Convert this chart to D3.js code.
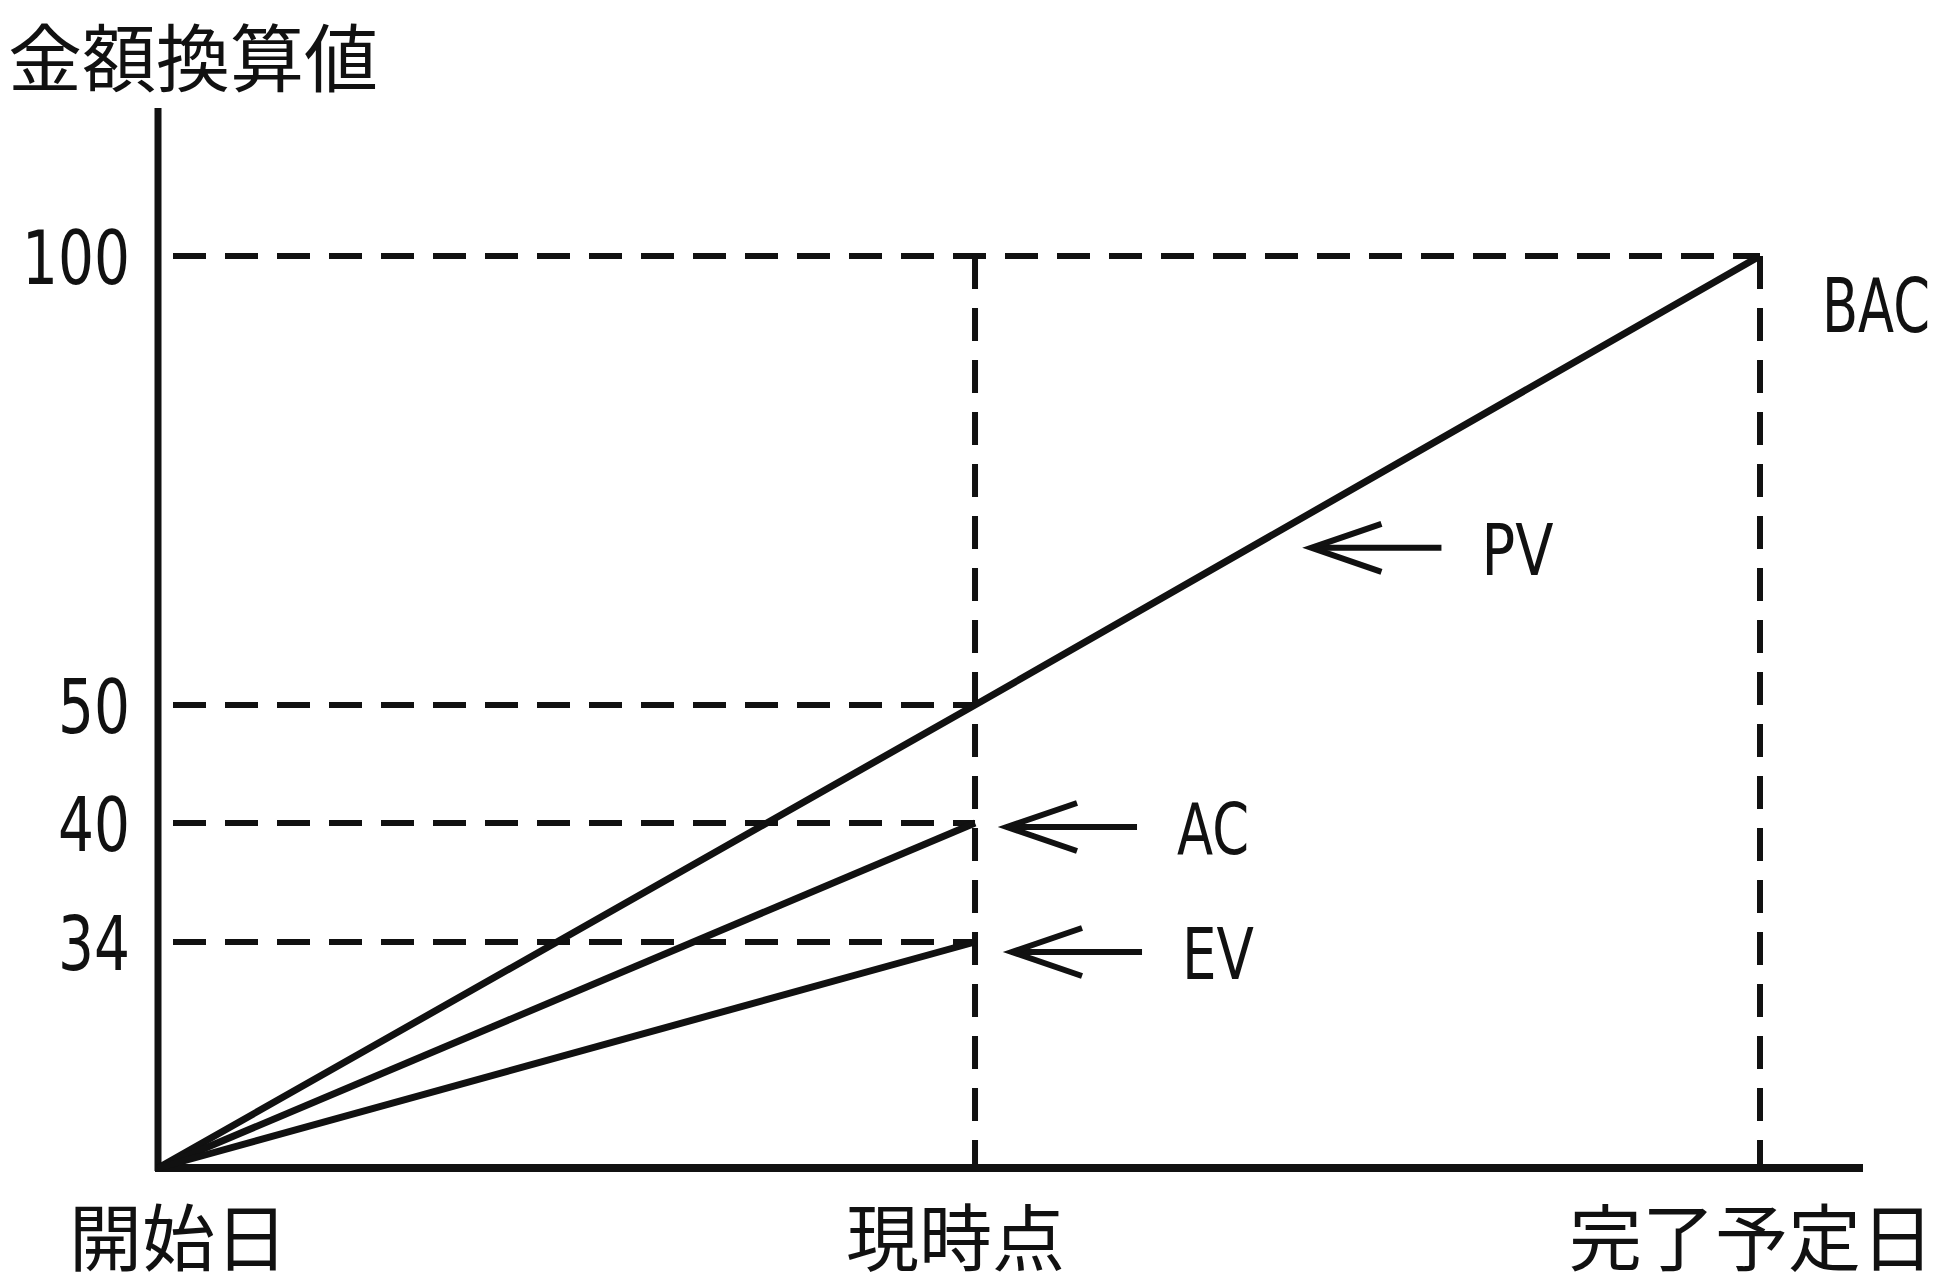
<!DOCTYPE html>
<html><head><meta charset="utf-8">
<script src="https://cdn.jsdelivr.net/npm/d3@7"></script>
<style>
html,body{margin:0;padding:0;background:#fff;}
svg{display:block;}
</style></head>
<body>
<svg id="chart" width="1944" height="1286"></svg>
<script>
// ---- data ----
const categories = ["開始日", "現時点", "完了予定日"];
const schedulePct = [0, 51, 100];          // position along schedule (%)
const pvValues = [0, 50, 100];             // planned value at each category
const acValues = [0, 40];                  // actual cost up to 現時点
const evValues = [0, 34];                  // earned value up to 現時点
const yTicks = [34, 40, 50, 100];
const yTitle = "金額換算値";
const seriesNames = ["PV", "AC", "EV"];
const bacLabel = "BAC";
// annotation anchor points in data units (schedule %, value)
const pvNote = [72, 67.5];
const acNote = [51, 40];
const evNote = [51, 34];

// ---- layout ----
const svg = d3.select("#chart");
const jpFont = "'Noto Sans CJK JP','Noto Sans CJK SC',sans-serif";
const numFont = "'DejaVu Sans','Liberation Sans',sans-serif";
const charW = 36; // condensed glyph advance for latin/digit labels
const x0 = 158, x1 = 1760, xAxisEnd = 1863;
const yBase = 1168, yTop = 108;

const x = d3.scaleLinear().domain([0, 100]).range([x0, x1]);
// schematic (non-uniform) value axis as in the source figure
const y = d3.scaleLinear().domain([0, 34, 40, 50, 100]).range([yBase, 942, 823, 705, 256]);

const ink = "#111";

// horizontally condense latin/digit text with a real scale transform
function condensed(sel) {
  sel.attr("font-family", numFont).each(function () {
    const t = d3.select(this);
    const natural = this.getComputedTextLength();
    const sx = (this.textContent.length * charW) / natural;
    const tx = +t.attr("x") || 0, ty = +t.attr("y") || 0;
    t.attr("x", 0).attr("y", 0).attr("transform", `translate(${tx},${ty}) scale(${sx},1)`);
  });
}

// dashed guide lines
const dash = "33,19";
const guides = svg.append("g").attr("stroke", ink).attr("stroke-width", 6).attr("stroke-dasharray", dash).attr("fill", "none");
yTicks.forEach(v => {
  const xEnd = v === 100 ? x(100) : x(schedulePct[1]);
  guides.append("line").attr("x1", x0 + 15).attr("x2", xEnd).attr("y1", y(v)).attr("y2", y(v));
});
[schedulePct[1], schedulePct[2]].forEach(p => {
  guides.append("line").attr("x1", x(p)).attr("x2", x(p)).attr("y1", y(100)).attr("y2", yBase);
});

// axes lines
svg.append("line").attr("x1", x0).attr("x2", x0).attr("y1", yTop).attr("y2", yBase + 3)
  .attr("stroke", ink).attr("stroke-width", 7);
svg.append("line").attr("x1", x0 - 3).attr("x2", xAxisEnd).attr("y1", yBase).attr("y2", yBase)
  .attr("stroke", ink).attr("stroke-width", 8);

// y axis labels
const yAxis = svg.append("g").attr("transform", `translate(${x0},0)`)
  .call(d3.axisLeft(y).tickValues(yTicks).tickSize(0).tickPadding(28));
yAxis.select(".domain").remove();
yAxis.selectAll("text").attr("font-size", 75).attr("fill", ink).attr("dy", "0.36em").call(condensed);

// x axis labels
const xOffsets = [20, -20, -9];
const xAxis = svg.append("g").attr("transform", `translate(0,${yBase})`)
  .call(d3.axisBottom(x).tickValues(schedulePct).tickFormat((d, i) => categories[i]).tickSize(0));
xAxis.select(".domain").remove();
xAxis.selectAll("text").attr("font-family", jpFont).attr("font-size", 73).attr("fill", ink)
  .attr("y", 97).attr("dy", null).attr("dx", (d, i) => xOffsets[i]);

// title
svg.append("text").attr("x", 8).attr("y", 86).attr("font-family", jpFont).attr("font-size", 74)
  .attr("fill", ink).text(yTitle);

// series lines
const line = d3.line().x(d => x(d[0])).y(d => y(d[1]));
const series = [
  pvValues.map((v, i) => [schedulePct[i], v]),
  acValues.map((v, i) => [schedulePct[i], v]),
  evValues.map((v, i) => [schedulePct[i], v])
];
svg.append("g").selectAll("path").data(series).join("path")
  .attr("d", line).attr("fill", "none").attr("stroke", ink).attr("stroke-width", 7)
  .attr("stroke-linejoin", "miter");

// annotations: arrows + labels
function arrow(tipX, tipY, label) {
  const g = svg.append("g").attr("stroke", ink).attr("stroke-width", 6).attr("fill", "none");
  g.append("line").attr("x1", tipX + 4).attr("x2", tipX + 130).attr("y1", tipY).attr("y2", tipY);
  g.append("path").attr("d", `M${tipX + 70},${tipY - 24} L${tipX},${tipY} L${tipX + 70},${tipY + 24}`)
    .attr("stroke-linejoin", "miter");
  svg.append("text").attr("x", tipX + 170).attr("y", tipY + 27)
    .attr("font-size", 72).attr("fill", ink).text(label).call(condensed);
}
arrow(x(pvNote[0]), y(pvNote[1]), seriesNames[0]);
arrow(x(acNote[0]) + 32, y(acNote[1]) + 4, seriesNames[1]);
arrow(x(evNote[0]) + 37, y(evNote[1]) + 10, seriesNames[2]);

// BAC label
svg.append("text").attr("x", x(100) + 62).attr("y", y(100) + 76)
  .attr("font-size", 74).attr("fill", ink).text(bacLabel).call(condensed);
</script>
</body></html>
